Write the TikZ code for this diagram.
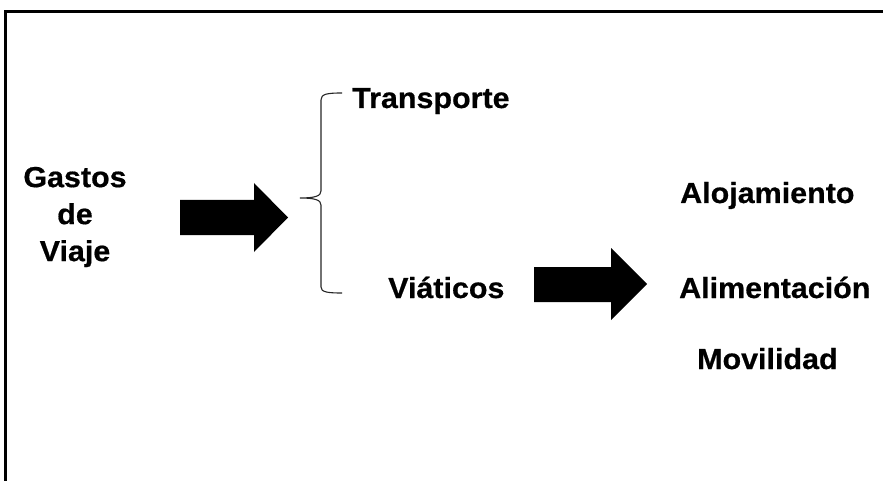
\documentclass[tikz,border=0pt]{standalone}
\usepackage{fontspec}
\setmainfont[FakeStretch=1.05, BoldFeatures={FakeBold=0.6}]{Liberation Sans}
\begin{document}
\begin{tikzpicture}[x=1pt,y=-1pt,
  lbl/.style={font=\fontsize{29}{37}\selectfont\bfseries, inner sep=0pt},
  blockarrow/.style={fill=black, draw=none},
  bracket/.style={draw=black!85, line width=1.1pt}]
\useasboundingbox (0,0) rectangle (883,481);

% frame: top and left edges only
\draw[line width=2.7pt] (5.3,481) -- (5.3,11.3) -- (883,11.3);

% labels
\node[lbl, align=center] (gastos) at (75,217) {Gastos\\de\\Viaje};
\node[lbl, anchor=base west] (transporte) at (352,108) {Transporte};
\node[lbl, anchor=base west] (viaticos) at (388,298) {Viáticos};
\node[lbl, anchor=base west] (alojamiento) at (680,203) {Alojamiento};
\node[lbl, anchor=base west] (alimentacion) at (679,298) {Alimentación};
\node[lbl, anchor=base west] (movilidad) at (697,369) {Movilidad};

% block arrows
\fill[blockarrow] (180,200) -- (254,200) -- (254,183) -- (288,217.5)
  -- (254,252) -- (254,235) -- (180,235) -- cycle;
\fill[blockarrow] (534,267) -- (611,267) -- (611,248) -- (647,284)
  -- (611,320) -- (611,302) -- (534,302) -- cycle;

% curly bracket grouping the two expense types
\draw[bracket] (342,93) .. controls (327,93) and (321,94) .. (321,100)
  -- (321,191) .. controls (321,196) and (315,198) .. (300,198)
  .. controls (315,198) and (321,200) .. (321,205)
  -- (321,287) .. controls (321,292) and (327,293) .. (342,293);
\end{tikzpicture}
\end{document}
